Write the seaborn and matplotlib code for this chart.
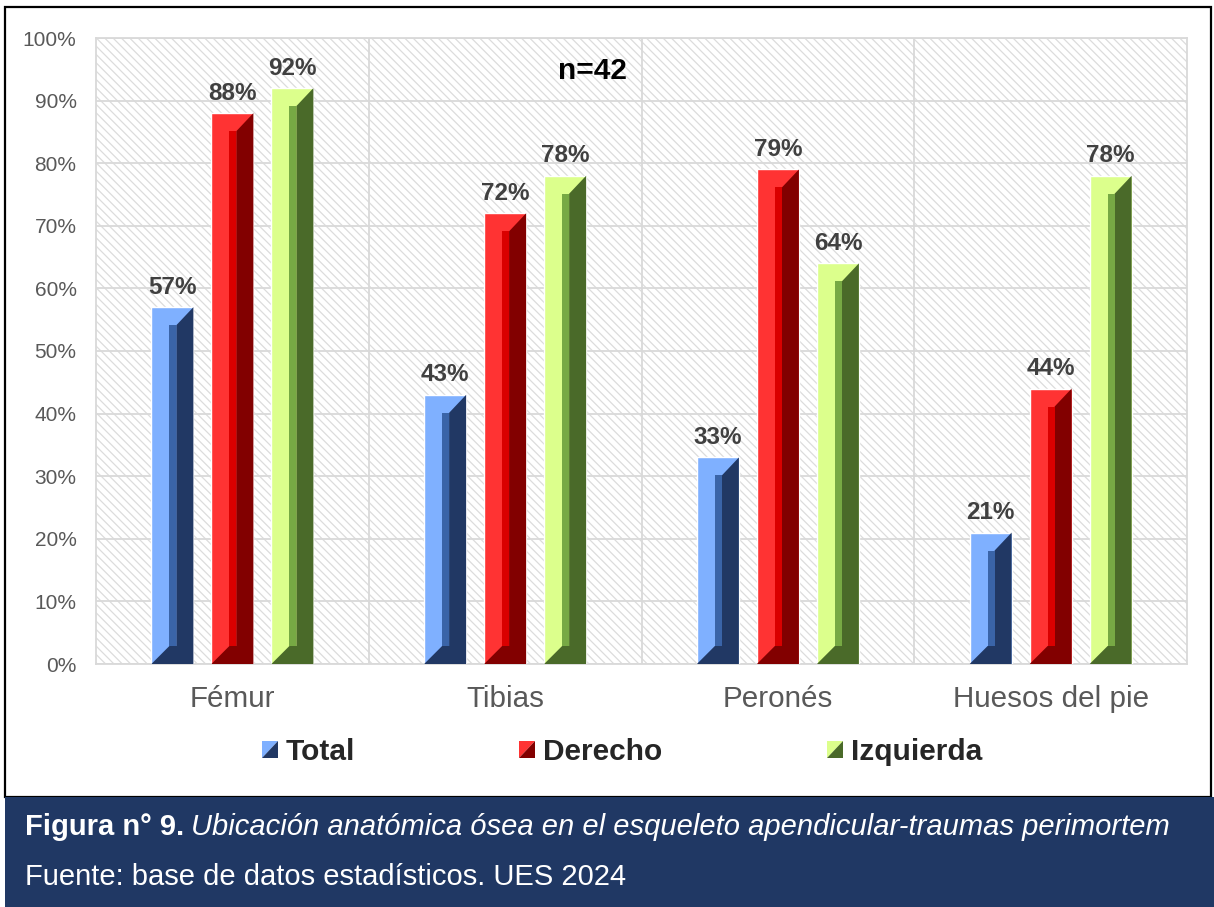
import numpy as np
import pandas as pd
import seaborn as sns
from matplotlib import pyplot as plt
from matplotlib.patches import Polygon, Rectangle, Patch
from matplotlib.legend_handler import HandlerBase
from matplotlib.colors import to_rgba

HUESOS = ["Fémur", "Tibias", "Peronés", "Huesos del pie"]
LADOS = ["Total", "Derecho", "Izquierda"]
TOTAL = [57, 43, 33, 21]
DERECHO = [88, 72, 79, 44]
IZQUIERDA = [92, 78, 64, 78]

# light face, middle strip, dark face
COLORES = {
    "Total": ("#7FB0FF", "#3A64A8", "#213864"),
    "Derecho": ("#FF3333", "#DA0000", "#820000"),
    "Izquierda": ("#DCFF8C", "#77A944", "#4A6A29"),
}


class HandlerDiag(HandlerBase):
    def __init__(self, light, dark):
        super().__init__()
        self.light, self.dark = light, dark

    def create_artists(self, legend, orig_handle, xdescent, ydescent,
                       width, height, fontsize, trans):
        x0, y0 = -xdescent, -ydescent
        up = Polygon([(x0, y0), (x0, y0 + height), (x0 + width, y0 + height)],
                     closed=True, fc=self.light, ec="none", transform=trans)
        lo = Polygon([(x0, y0), (x0 + width, y0), (x0 + width, y0 + height)],
                     closed=True, fc=self.dark, ec="none", transform=trans)
        return [up, lo]


def main():
    df = pd.DataFrame({
        "hueso": HUESOS * 3,
        "lado": np.repeat(LADOS, len(HUESOS)),
        "valor": TOTAL + DERECHO + IZQUIERDA,
    })

    sns.set_style("white")
    plt.rcParams["font.family"] = ["Liberation Sans", "DejaVu Sans"]
    plt.rcParams["hatch.linewidth"] = 0.9

    fig = plt.figure(figsize=(12.14, 9.07), dpi=100)
    ax = fig.add_axes([96 / 1214, 1 - 664 / 907, (1187 - 96) / 1214, (664 - 38) / 907])

    sns.barplot(
        data=df, x="hueso", y="valor", hue="lado", order=HUESOS, hue_order=LADOS,
        palette=[COLORES[l][0] for l in LADOS], saturation=1, width=0.66, gap=0.3,
        legend=False, ax=ax, zorder=3,
    )
    ax.set_xlim(-0.5, 3.5)
    ax.set_ylim(0, 100)

    bars = list(ax.patches)
    p0 = ax.transData.transform((0, 0))
    p1 = ax.transData.transform((1, 1))
    px_x = p1[0] - p0[0]
    px_y = p1[1] - p0[1]
    d = 18 / px_x
    s = 7 / px_x
    e = 18 / px_y

    by_color = {tuple(np.round(to_rgba(v[0]), 3)): v for v in COLORES.values()}
    for bar in bars:
        light, mid, dark = by_color[tuple(np.round(bar.get_facecolor(), 3))]
        xl = bar.get_x()
        xr = xl + bar.get_width()
        top = bar.get_height()
        xm1 = xl + d
        xm2 = xm1 + s
        ax.add_patch(Polygon(
            [(xl, 0), (xr, 0), (xr, top), (xm2, top - e), (xm2, e), (xm1, e)],
            closed=True, fc=dark, ec="none", zorder=4))
        ax.add_patch(Rectangle((xm1, e), s, top - 2 * e, fc=mid, ec="none", zorder=4))

    for c in ax.containers:
        ax.bar_label(c, fmt="%.0f%%", padding=6, fontsize=17.5,
                     fontweight="bold", color="#404040", zorder=5)

    ax.add_patch(Rectangle((0, 0), 1, 1, transform=ax.transAxes, fc="none",
                           ec="#DCDCDC", lw=0, hatch="\\\\\\\\", zorder=0.2))

    ax.text(1.32, 94.7, "n=42", ha="center", va="center", fontsize=21.5,
            fontweight="bold", color="black")

    ax.set_axisbelow(True)
    ax.set_yticks(range(0, 101, 10))
    ax.set_yticklabels([f"{v}%" for v in range(0, 101, 10)])
    ax.set_xticks([0.5, 1.5, 2.5], minor=True)
    ax.grid(axis="y", which="major", color="#D9D9D9", linewidth=1.3)
    ax.grid(axis="x", which="minor", color="#D9D9D9", linewidth=1.3)
    ax.grid(axis="x", which="major", visible=False)
    ax.tick_params(axis="y", length=0, pad=14, labelsize=15, labelcolor="#595959")
    ax.tick_params(axis="x", which="both", length=0, pad=15, labelsize=21.3,
                   labelcolor="#595959")
    ax.set_xlabel(None)
    ax.set_ylabel(None)
    for spine in ax.spines.values():
        spine.set_color("#D9D9D9")
        spine.set_linewidth(1.3)

    handles = [Patch(label=l) for l in LADOS]
    hmap = {h: HandlerDiag(COLORES[l][0], COLORES[l][2]) for h, l in zip(handles, LADOS)}
    fig.legend(handles=handles, handler_map=hmap, loc="center",
               bbox_to_anchor=(622 / 1214, 1 - 752 / 907), ncol=3, frameon=False,
               prop={"size": 21.5, "weight": "bold"}, handlelength=0.53,
               handleheight=0.53, handletextpad=0.27, columnspacing=5.5)

    # outer frame and caption box
    fig.add_artist(Rectangle((5 / 1214, 1 - 797 / 907), 1206 / 1214, 790 / 907,
                             transform=fig.transFigure, fc="none", ec="black", lw=1.6))
    fig.add_artist(Rectangle((5 / 1214, 0), 1, 1 - 797 / 907,
                             transform=fig.transFigure, fc="#203864", ec="none"))
    t1 = fig.text(25 / 1214, 1 - 835 / 907, "Figura n° 9.", color="white",
                  fontsize=21, fontweight="bold", va="baseline", ha="left", zorder=5)
    fig.canvas.draw()
    bb = t1.get_window_extent()
    fig.text(bb.x1 / 1214 + 7 / 1214, 1 - 835 / 907,
             "Ubicación anatómica ósea en el esqueleto apendicular-traumas perimortem",
             color="white", fontsize=21, fontstyle="italic", va="baseline", ha="left",
             zorder=5)
    fig.text(25 / 1214, 1 - 885 / 907, "Fuente: base de datos estadísticos. UES 2024",
             color="white", fontsize=21, va="baseline", ha="left", zorder=5)

    fig.savefig("out.png", dpi=100)


if __name__ == "__main__":
    main()
